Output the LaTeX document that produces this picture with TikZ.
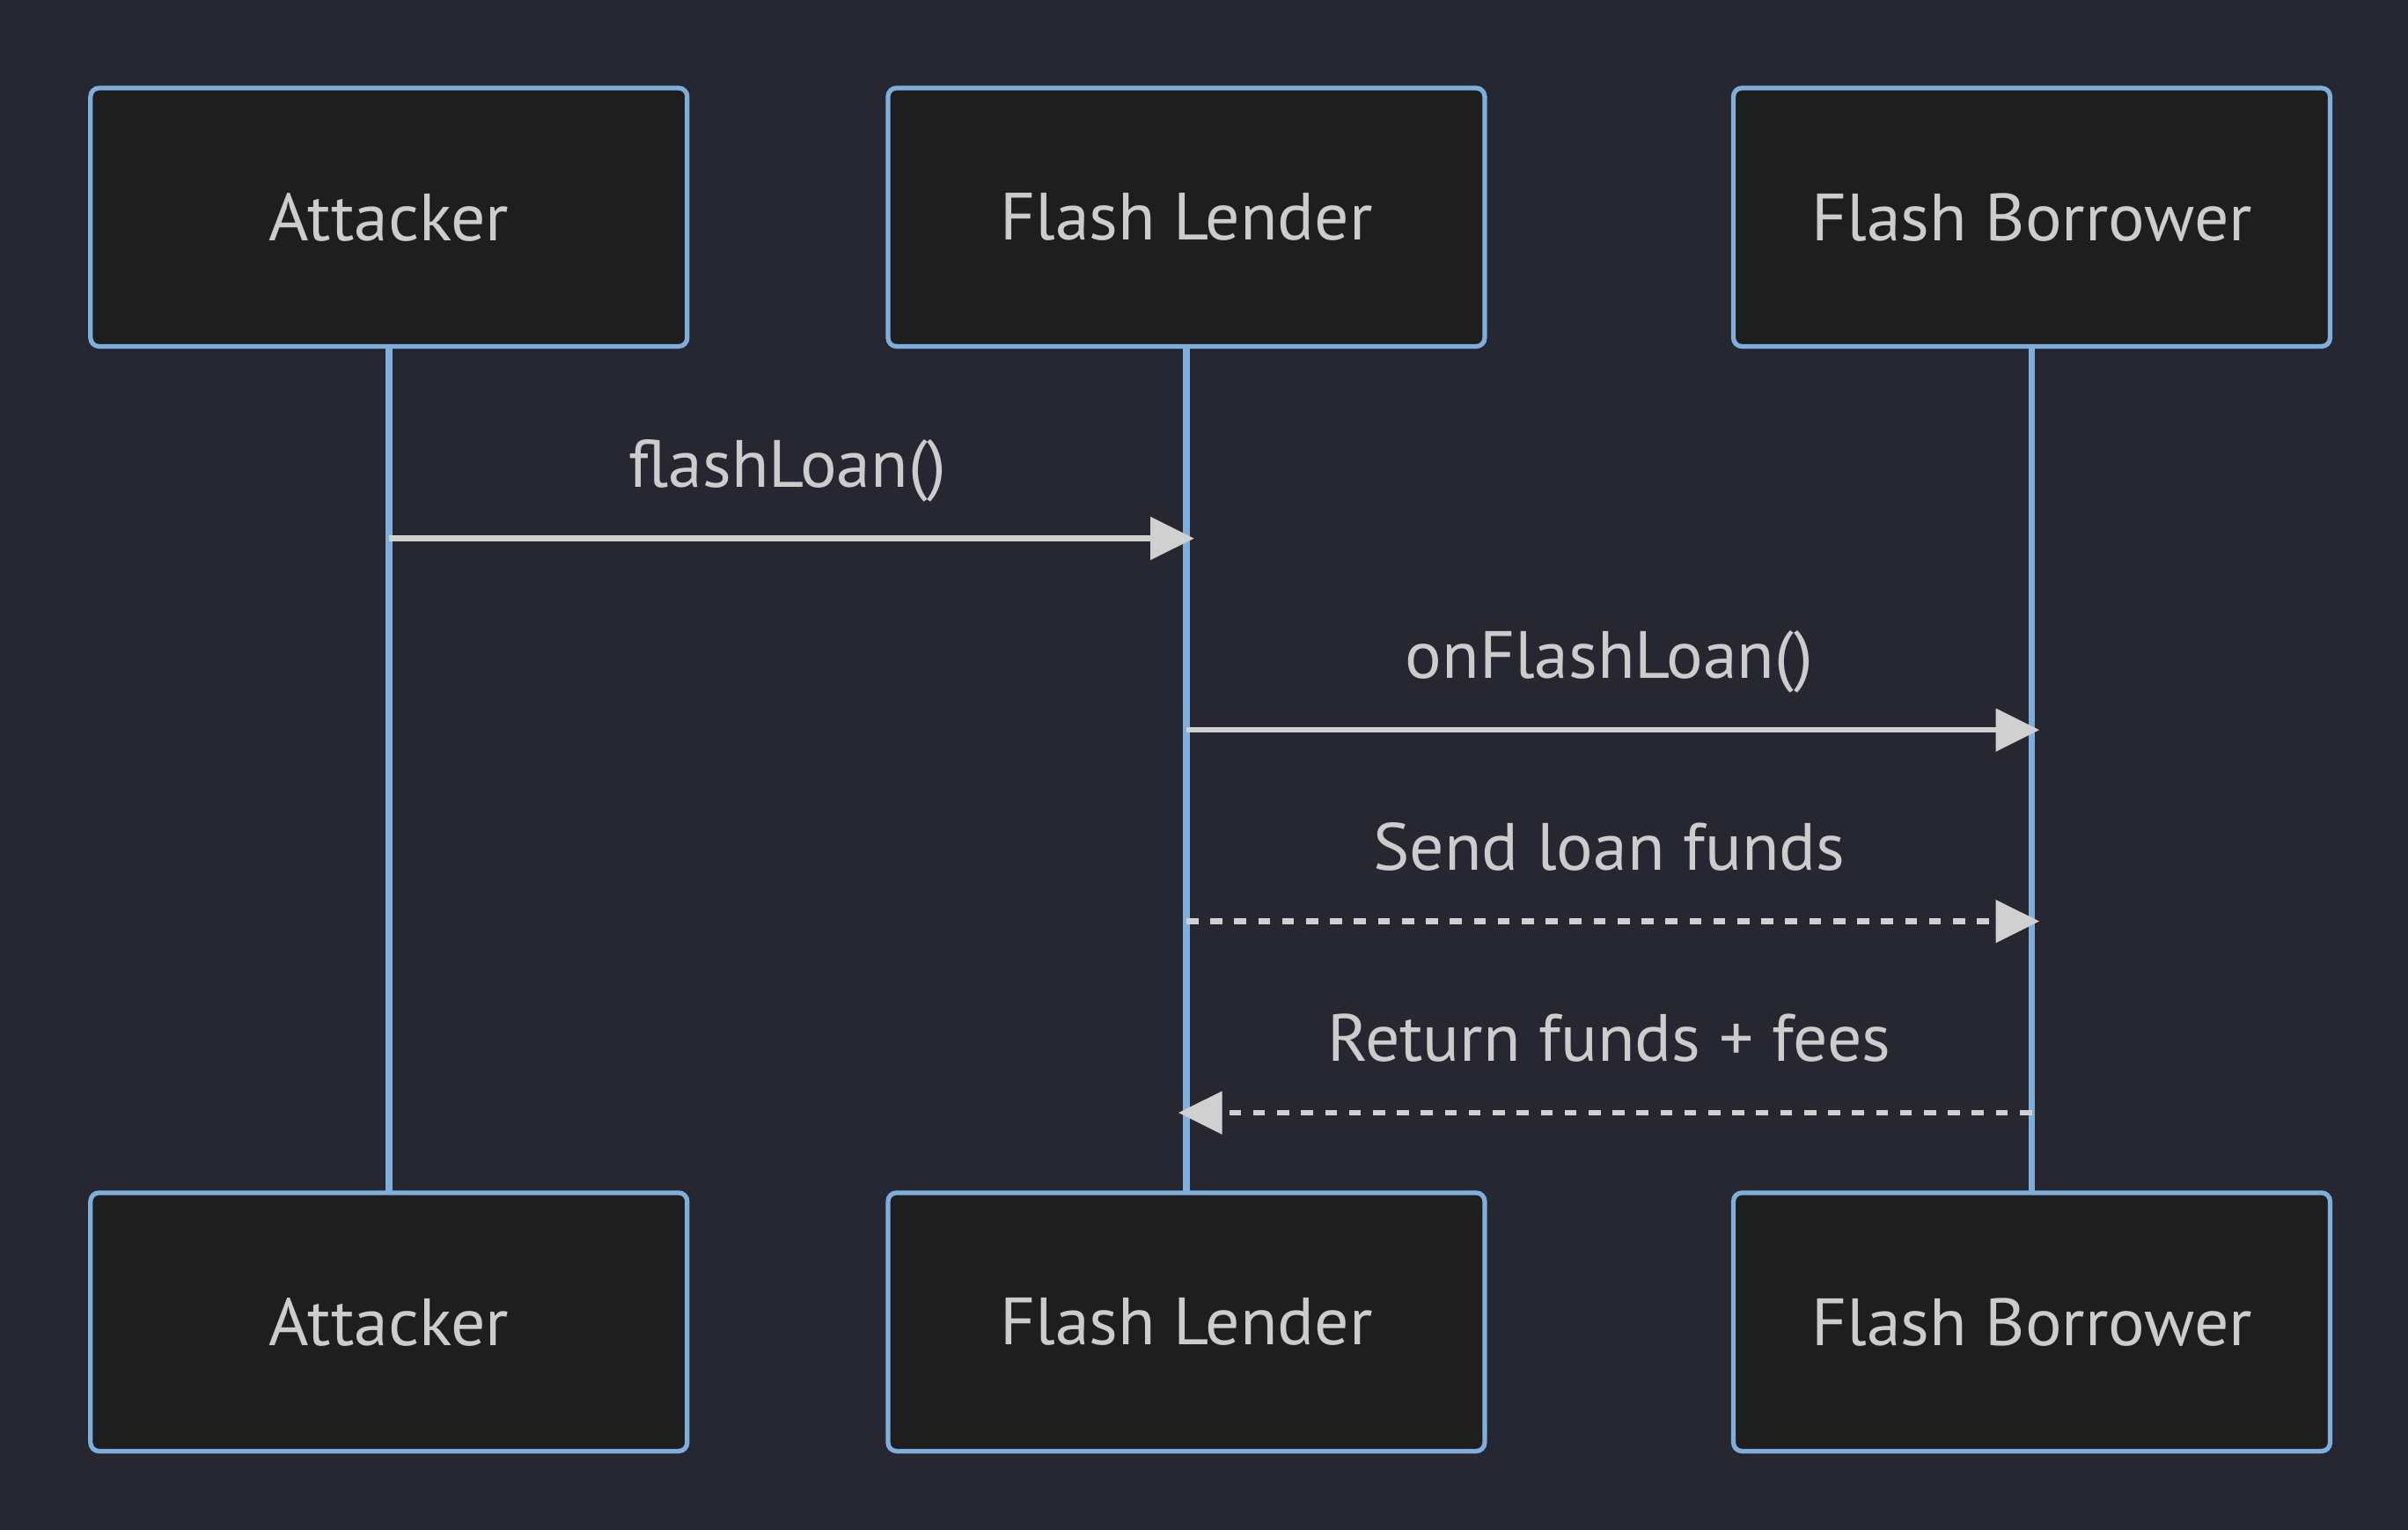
\documentclass[tikz,border=0pt]{standalone}
\usepackage{fontspec}
\setmainfont{PT Sans}[FakeStretch=1.025]
\usetikzlibrary{arrows.meta}
\definecolor{bg}{HTML}{262731}
\definecolor{actorfill}{HTML}{1E1E1E}
\definecolor{actorborder}{HTML}{7DAEDC}
\definecolor{txt}{HTML}{CCCCCC}
\definecolor{sig}{HTML}{D0D0D0}
\tikzset{
  actor/.style={draw=actorborder, fill=actorfill, line width=3pt, rounded corners=5.5pt,
    minimum width=388.5pt, minimum height=168.2pt, inner sep=0pt, text=txt,
    font=\fontsize{43.5}{50}\selectfont},
  lifeline/.style={draw=actorborder, line width=4.4pt},
  msg/.style={draw=sig, line width=3.6pt, -{Triangle[length=28.5pt,width=27.3pt]}},
  dotmsg/.style={msg, dash pattern=on 7.8pt off 7.8pt},
  lbl/.style={text=txt, inner sep=0pt, anchor=base, font=\fontsize{43.5}{50}\selectfont}
}
\begin{document}
\begin{tikzpicture}[x=1pt,y=-1pt]
\path[fill=bg] (0,0) rectangle (1568,996);
\useasboundingbox (0,0) rectangle (1568,996);
% lifeline anchors (drawn first so boxes sit on top)
\coordinate (la) at (253.2,225.5);
\coordinate (lb) at (772.5,225.5);
\coordinate (lc) at (1323,225.5);
\coordinate (la2) at (253.2,776.5);
\coordinate (lb2) at (772.5,776.5);
\coordinate (lc2) at (1323,776.5);
\draw[lifeline] (la) -- (la2);
\draw[lifeline] (lb) -- (lb2);
\draw[lifeline] (lc) -- (lc2);
% actors
\node[actor] (a1) at (253.2,141.4) {Attacker};
\node[actor] (b1) at (772.5,141.4) {Flash Lender};
\node[actor] (c1) at (1323,141.4) {Flash Borrower};
\node[actor] (a2) at (253.2,860.6) {Attacker};
\node[actor] (b2) at (772.5,860.6) {Flash Lender};
\node[actor] (c2) at (1323,860.6) {Flash Borrower};
% message end points
\coordinate (m1s) at (253.2,350.5);
\coordinate (m1e) at (777.6,350.5);
\coordinate (m2s) at (772.5,475.2);
\coordinate (m2e) at (1328,475.2);
\coordinate (m3s) at (772.5,599.8);
\coordinate (m3e) at (1328,599.8);
\coordinate (m4s) at (1323,724.4);
\coordinate (m4e) at (767.3,724.4);
\draw[msg] (m1s) -- (m1e);
\draw[msg] (m2s) -- (m2e);
\draw[dotmsg] (m3s) -- (m3e);
\draw[dotmsg] (m4s) -- (m4e);
% labels
\node[lbl] (t1) at (512.9,317) {flashLoan()};
\node[lbl] (t2) at (1047.8,441.6) {onFlashLoan()};
\node[lbl] (t3) at (1047.8,566.3) {Send loan funds};
\node[lbl] (t4) at (1047.8,690.9) {Return funds + fees};
\end{tikzpicture}
\end{document}
